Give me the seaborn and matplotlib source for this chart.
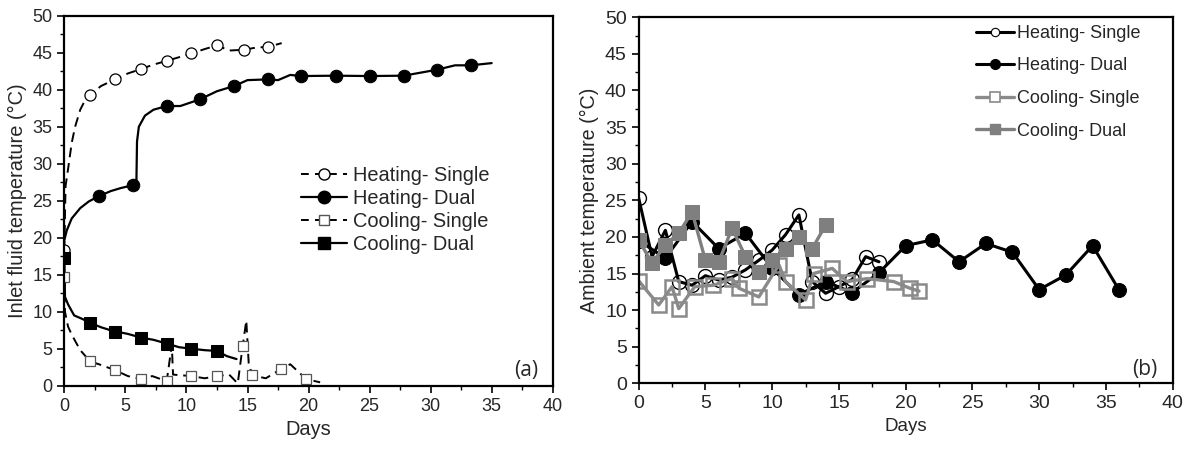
import numpy as np
import pandas as pd
import matplotlib
matplotlib.use("Agg")
import matplotlib.pyplot as plt
from matplotlib.lines import Line2D
from matplotlib.ticker import MultipleLocator
import seaborn as sns

# ---------------- Panel (a): inlet fluid temperature ----------------
# continuous measured curves (read off the picture)
hs_curve_days = [0, 0.05, 0.1, 0.33, 0.6, 0.88, 1.3, 1.7, 2.1, 3.0, 4.15, 5.2, 6.28, 7.3, 8.38, 9.4,
                 10.4, 11.5, 12.5, 13.5, 14.7, 15.7, 16.7, 17.8]
hs_curve_temp = [18.3, 23, 27, 29.6, 32.8, 35, 37.3, 38.6, 39.3, 40.5, 41.4, 42.2, 42.8, 43.4, 43.9, 44.4,
                 44.9, 45.5, 46.0, 45.3, 45.4, 45.7, 45.8, 46.3]
hs_mark_days = [0, 2.1, 4.15, 6.28, 8.38, 10.4, 12.5, 14.7, 16.7]
hs_mark_temp = [18.3, 39.3, 41.4, 42.8, 43.9, 44.9, 46.0, 45.4, 45.8]

hd_curve_days = [0, 0.2, 0.6, 1.3, 2.0, 2.8, 3.8, 4.6, 5.6, 5.9, 5.95, 6.1, 6.6, 7.3, 8.38, 9.5,
                 11.1, 12.5, 13.9, 15.0, 16.7, 17.5, 18.5, 19.4, 22.25, 25.0, 27.8, 30.5, 32.0,
                 33.3, 35.0]
hd_curve_temp = [19.7, 21, 22.6, 24, 24.9, 25.6, 26.3, 26.7, 27.1, 27.5, 33, 35, 36.5, 37.3, 37.8,
                 37.8, 38.7, 39.8, 40.5, 41.3, 41.4, 41.3, 42.0, 41.85, 41.9, 41.85, 41.9, 42.7,
                 43.3, 43.3, 43.6]
hd_mark_days = [2.8, 5.6, 8.38, 11.1, 13.9, 16.7, 19.4, 22.25, 25.0, 27.8, 30.5, 33.3]
hd_mark_temp = [25.6, 27.1, 37.8, 38.7, 40.5, 41.4, 41.85, 41.9, 41.85, 41.9, 42.7, 43.3]

cs_curve_days = [0, 0.05, 0.3, 0.6, 1.3, 2.1, 3.0, 4.15, 5.2, 6.28, 7.2, 8.38, 8.8, 8.9, 10.4, 11.5,
                 12.5, 13.5, 14.2, 14.6, 14.9, 15.1, 15.4, 16.5, 17.75, 18.5, 19.8, 20.95]
cs_curve_temp = [14.7, 10, 8, 6.9, 4.8, 3.3, 2.8, 2.1, 1.3, 0.9, 1.3, 0.6, 5.5, 1.5, 1.3, 1.0,
                 1.3, 1.5, 0.3, 5.3, 8.8, 3.0, 1.4, 1.0, 2.25, 2.9, 0.9, 0.45]
cs_mark_days = [0, 2.1, 4.15, 6.28, 8.38, 10.4, 12.5, 14.6, 15.4, 17.75, 19.8]
cs_mark_temp = [14.7, 3.3, 2.1, 0.9, 0.6, 1.3, 1.3, 5.3, 1.4, 2.25, 0.9]

cd_curve_days = [0, 0.05, 0.3, 0.8, 1.5, 2.1, 3.0, 4.15, 4.6, 5.2, 6.28, 7.3, 8.38, 9.4, 10.4,
                 11.5, 12.5, 13.3, 14.1]
cd_curve_temp = [17.3, 12, 11, 9.5, 9.0, 8.5, 7.9, 7.3, 7.2, 7.0, 6.5, 6.2, 5.7, 5.2, 5.0,
                 4.8, 4.7, 4.0, 3.6]
cd_mark_days = [0, 2.1, 4.15, 6.28, 8.38, 10.4, 12.5]
cd_mark_temp = [17.3, 8.5, 7.3, 6.5, 5.7, 5.0, 4.7]

# ---------------- Panel (b): ambient temperature ----------------
amb_hs_days = [0, 1, 2, 3, 4, 5, 6, 7, 8, 9, 10, 11, 12, 13, 14, 15, 16, 17, 18]
amb_hs_temp = [25.3, 17.3, 20.9, 13.9, 13.4, 14.7, 14.1, 14.5, 15.5, 16.8, 18.2, 20.3, 23.0,
               13.9, 12.3, 13.2, 14.2, 17.3, 16.6]
amb_hd_days = [0, 2, 4, 6, 8, 10, 12, 14, 16, 18, 20, 22, 24, 26, 28, 30, 32, 34, 36]
amb_hd_temp = [19.5, 17.1, 22.1, 18.4, 20.5, 15.7, 12.1, 13.9, 12.4, 15.1, 18.8, 19.6, 16.6,
               19.1, 17.9, 12.8, 14.8, 18.8, 12.7]
amb_cs_days = [0, 1.5, 2.5, 3, 4.2, 5.6, 7, 7.5, 9, 10.5, 11, 12.5, 13.1, 14.5, 15.6, 17.1,
               19.1, 20.3, 21]
amb_cs_temp = [14.0, 10.7, 13.2, 10.2, 13.2, 13.4, 14.3, 13.0, 11.8, 16.2, 13.9, 11.4, 15.0,
               15.7, 13.9, 14.3, 13.9, 13.0, 12.6]
amb_cd_days = [0, 1, 2, 3, 4, 5, 6, 7, 8, 9, 10, 11, 12, 13, 14]
amb_cd_temp = [19.6, 16.4, 18.9, 20.5, 23.4, 16.8, 16.6, 21.2, 17.3, 15.2, 16.8, 18.4, 20.0,
               18.4, 21.6]

labels = ["Heating- Single", "Heating- Dual", "Cooling- Single", "Cooling- Dual"]

sns.set_style("ticks")
plt.rcParams["font.family"] = ["Liberation Sans", "DejaVu Sans"]
plt.rcParams["xtick.direction"] = "out"
plt.rcParams["ytick.direction"] = "out"

fig = plt.figure(figsize=(11.92, 4.5), dpi=100)
ax1 = fig.add_axes([0.054, 0.1429, 0.4097, 0.8221])
ax2 = fig.add_axes([0.5358, 0.1482, 0.4480, 0.8134])

def line(ax, xs, ys, **kw):
    sns.lineplot(x=xs, y=ys, ax=ax, sort=False, estimator=None, legend=False, **kw)

# ---- panel (a)
dash = (5, 3)
line(ax1, hs_curve_days, hs_curve_temp, color="black", linewidth=1.4, linestyle=(0, dash))
line(ax1, hd_curve_days, hd_curve_temp, color="black", linewidth=1.6)
line(ax1, cs_curve_days, cs_curve_temp, color="black", linewidth=1.4, linestyle=(0, dash))
line(ax1, cd_curve_days, cd_curve_temp, color="black", linewidth=1.6)

line(ax1, hs_mark_days, hs_mark_temp, linestyle="none", marker="o", markersize=8,
     markerfacecolor="white", markeredgecolor="black", markeredgewidth=0.9)
line(ax1, hd_mark_days, hd_mark_temp, linestyle="none", marker="o", markersize=9,
     markerfacecolor="black", markeredgecolor="black")
line(ax1, cs_mark_days, cs_mark_temp, linestyle="none", marker="s", markersize=7.5,
     markerfacecolor="white", markeredgecolor="#555555", markeredgewidth=0.9)
line(ax1, cd_mark_days, cd_mark_temp, linestyle="none", marker="s", markersize=8,
     markerfacecolor="black", markeredgecolor="black")

h1 = [
    Line2D([], [], color="black", lw=1.4, ls=(0, (4, 3.2)), marker="o", ms=8, mfc="white", mec="black"),
    Line2D([], [], color="black", lw=1.6, marker="o", ms=9, mfc="black"),
    Line2D([], [], color="black", lw=1.4, ls=(0, (4, 3.2)), marker="s", ms=7.5, mfc="white", mec="#555555"),
    Line2D([], [], color="black", lw=1.6, marker="s", ms=8, mfc="black"),
]
ax1.legend(h1, labels, loc="center left", bbox_to_anchor=(0.485, 0.476), frameon=False,
           fontsize=14.4, handlelength=2.3, handletextpad=0.3, labelspacing=0.2,
           borderpad=0, borderaxespad=0)
ax1.text(0.945, 0.04, "(a)", transform=ax1.transAxes, ha="center", va="center", fontsize=15,
         family=["Open Sans", "DejaVu Sans"])
ax1.set_ylabel("Inlet fluid temperature (°C)", fontsize=14.4)

# ---- panel (b)
g1, g2 = "#8a8a8a", "#7f7f7f"
line(ax2, amb_hs_days, amb_hs_temp, color="black", linewidth=2.2, marker="o", markersize=10,
     markerfacecolor="none", markeredgecolor="black", markeredgewidth=1.0)
line(ax2, amb_hd_days, amb_hd_temp, color="black", linewidth=2.2, marker="o", markersize=10,
     markerfacecolor="black", markeredgecolor="black")
line(ax2, amb_cs_days, amb_cs_temp, color=g1, linewidth=2.4, marker="s", markersize=10,
     markerfacecolor="none", markeredgecolor=g1, markeredgewidth=1.8)
line(ax2, amb_cd_days, amb_cd_temp, color=g2, linewidth=2.4, marker="s", markersize=10,
     markerfacecolor=g2, markeredgecolor=g2)

h2 = [
    Line2D([], [], color="black", lw=2.2, marker="o", ms=6, mfc="white", mec="black", mew=0.8),
    Line2D([], [], color="black", lw=2.2, marker="o", ms=7, mfc="black"),
    Line2D([], [], color=g1, lw=2.4, marker="s", ms=6.5, mfc="white", mec=g1, mew=1.2),
    Line2D([], [], color=g2, lw=2.4, marker="s", ms=6.5, mfc=g2, mec=g2),
]
ax2.legend(h2, labels, loc="upper left", bbox_to_anchor=(0.632, 0.979), frameon=False,
           fontsize=13, handlelength=2.1, handletextpad=0.15, labelspacing=0.86,
           borderpad=0, borderaxespad=0)
ax2.text(0.948, 0.037, "(b)", transform=ax2.transAxes, ha="center", va="center", fontsize=15,
         family=["Open Sans", "DejaVu Sans"])
ax2.set_ylabel("Ambient temperature (°C)", fontsize=14.2)

for ax, fs in ((ax1, 13), (ax2, 14)):
    ax.set_xlim(0, 40)
    ax.set_ylim(0, 50)
    ax.xaxis.set_major_locator(MultipleLocator(5))
    ax.xaxis.set_minor_locator(MultipleLocator(2.5))
    ax.yaxis.set_major_locator(MultipleLocator(5))
    ax.yaxis.set_minor_locator(MultipleLocator(2.5))
    ax.tick_params(which="major", length=5, width=1.2, labelsize=fs, color="black")
    ax.tick_params(which="minor", length=3, width=1.0, color="black")
    for sp in ax.spines.values():
        sp.set_visible(True)
        sp.set_linewidth(1.6)
        sp.set_color("black")
    ax.set_xlabel("Days", fontsize=14.4 if ax is ax1 else 13.5)
    ax.set_facecolor("white")

fig.savefig("out.png", dpi=100, facecolor="white")
